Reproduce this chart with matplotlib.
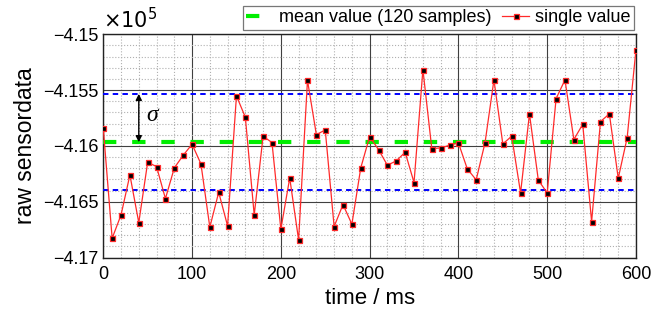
import numpy as np
import matplotlib
matplotlib.use("Agg")
import matplotlib.pyplot as plt
from matplotlib.ticker import FuncFormatter, MultipleLocator

plt.rcParams["font.family"] = ["Liberation Sans", "DejaVu Sans"]

# sample time in ms
time_ms = list(range(0, 601, 10))
# raw sensor readings
raw = [
    -415842, -416827, -416618, -416260, -416687, -416146, -416185, -416472,
    -416197, -416084, -415985, -416161, -416728, -416415, -416716, -415552,
    -415743, -416618, -415913, -415970, -416746, -416287, -416842, -415412,
    -415899, -415857, -416722, -416525, -416701, -416197, -415916, -416033,
    -416173, -416134, -416057, -416328, -415316, -416024, -416018, -415994,
    -415973, -416206, -416304, -415970, -415409, -415982, -415913, -416421,
    -415713, -416307, -416421, -415576, -415409, -415943, -415806, -416678,
    -415782, -415713, -416290, -415928, -415137,
]
mean_value = -415967   # mean over 120 samples
upper_sigma = -415534
lower_sigma = -416397

RED = "#FF2A2A"
GREEN = "#00EE00"
BLUE = "#0000FF"

fig = plt.figure(figsize=(6.68, 3.2), dpi=100)
ax = fig.add_axes([0.1546, 0.195, 0.7975, 0.698])

ax.plot([0, 600], [mean_value, mean_value], color=GREEN, linewidth=3,
        dashes=(3.2, 3.8), label="mean value (120 samples)", zorder=3)
ax.plot([0, 600], [upper_sigma, upper_sigma], color=BLUE, linewidth=1.4,
        dashes=(2.8, 2.2), zorder=3)
ax.plot([0, 600], [lower_sigma, lower_sigma], color=BLUE, linewidth=1.4,
        dashes=(2.8, 2.2), zorder=3)
ax.plot(time_ms, raw, color=RED, linewidth=0.9, marker="s", markersize=3.6,
        markerfacecolor="black", markeredgecolor=RED, markeredgewidth=0.9,
        label="single value", zorder=4)

# sigma arrow
ax.annotate("", xy=(40, upper_sigma), xytext=(40, mean_value),
            arrowprops=dict(arrowstyle="<|-|>", color="black", lw=1,
                            mutation_scale=9, shrinkA=0, shrinkB=0), zorder=5)
ax.text(48, -415730, "σ", fontsize=17, style="italic",
        family=["Liberation Serif", "DejaVu Serif"], ha="left", va="center")

ax.set_xlim(0, 600)
ax.set_ylim(-417000, -415000)
ax.xaxis.set_major_locator(MultipleLocator(100))
ax.xaxis.set_minor_locator(MultipleLocator(20))
ax.yaxis.set_major_locator(MultipleLocator(500))
ax.yaxis.set_minor_locator(MultipleLocator(100))
ax.yaxis.set_major_formatter(
    FuncFormatter(lambda v, p: f"{v / 1e5:g}".replace("-", "\u2212")))

ax.grid(which="major", color="#404040", linestyle="-", linewidth=0.8)
ax.grid(which="minor", color="#b0b0b0", linestyle=":", linewidth=0.8)
ax.set_axisbelow(True)
ax.tick_params(which="both", direction="in", labelsize=13, length=0)
ax.tick_params(axis="x", pad=6)
for s in ax.spines.values():
    s.set_linewidth(1.0)
    s.set_color("#222222")

ax.set_xlabel("time / ms", fontsize=16, labelpad=4)
ax.set_ylabel("raw sensordata", fontsize=16.5, labelpad=4)
ax.text(0.0, 1.01, r"$\times 10^5$", transform=ax.transAxes, fontsize=15,
        ha="left", va="bottom")

leg = ax.legend(loc="lower right", bbox_to_anchor=(1.0, 1.0), ncol=2,
                fontsize=13, frameon=True, fancybox=False, edgecolor="#555555",
                borderaxespad=0.25, handlelength=1.5, handletextpad=0.3,
                columnspacing=0.6, borderpad=0.2)
leg.set_bbox_to_anchor((1.0 + 0.004, 1.0), transform=ax.transAxes)
leg.get_frame().set_linewidth(0.9)

plt.savefig("out.png", dpi=100)
